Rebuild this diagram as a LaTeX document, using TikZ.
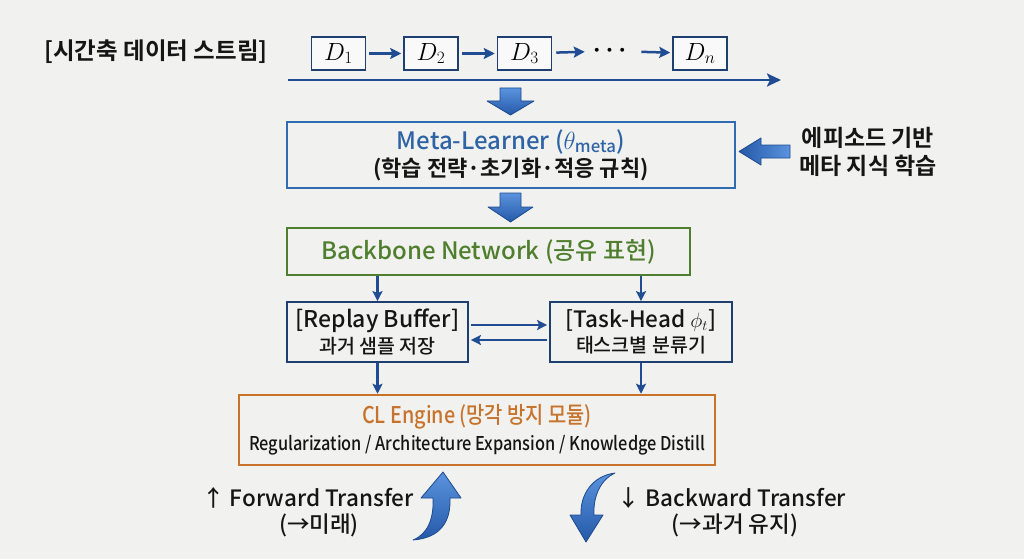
\documentclass[tikz,border=0pt]{standalone}
\usepackage{fontspec}
\usepackage{amsmath}
\setmainfont{Noto Sans CJK KR}[UprightFont={* Medium}, BoldFont={* Bold}]
\newfontfamily\condfont{Noto Sans CJK KR}[UprightFont={* Medium}, BoldFont={* Bold}, FakeStretch=0.86]
\usetikzlibrary{arrows.meta,calc}
\definecolor{bg}{HTML}{F1F1EF}
\definecolor{navy}{HTML}{1F3E72}
\definecolor{lineblue}{HTML}{1F4C92}
\definecolor{metablue}{HTML}{2E63A6}
\definecolor{boxblue}{HTML}{2F6CB3}
\definecolor{greenc}{HTML}{4F7F2E}
\definecolor{orangec}{HTML}{C7732C}
\definecolor{arrowlight}{HTML}{5B93DE}
\definecolor{arrowdark}{HTML}{2459A8}
\definecolor{arrowedge}{HTML}{1D4A8C}
\definecolor{ink}{HTML}{151515}
\tikzset{
  dbox/.style={draw=navy, line width=1.5pt, fill=white!60!bg, minimum width=54pt, minimum height=33pt, inner sep=0pt, font=\fontsize{24}{26}\selectfont},
  darr/.style={draw=lineblue, line width=2.5pt, -{Stealth[length=11pt,width=11pt,inset=2pt]}},
  thinarr/.style={draw=lineblue, line width=2.2pt, -{Stealth[length=10pt,width=10pt,inset=2pt]}},
  blockarrow/.style={top color=arrowlight, bottom color=arrowdark, draw=arrowedge, line width=0.8pt, line join=round},
  sidearrow/.style={left color=arrowdark, right color=arrowlight, draw=arrowedge, line width=0.8pt, line join=round},
  lbl/.style={inner sep=0pt, text=ink, align=center},
}
\begin{document}
\begin{tikzpicture}[x=1pt,y=-1pt]
\fill[bg] (0,0) rectangle (1024,559);
\useasboundingbox (0,0) rectangle (1024,559);

% title
\node[lbl, font=\fontsize{23.5}{26}\selectfont\bfseries] (title) at (156,52) {[시간축 데이터 스트림]};

% data stream
\node[dbox] (d1) at (338.5,53.5) {$D_1$};
\node[dbox] (d2) at (431,53.5) {$D_2$};
\node[dbox] (d3) at (524.5,53.5) {$D_3$};
\node[inner sep=0pt, font=\fontsize{40}{40}\selectfont] (dots) at (612,51) {$\boldsymbol{\cdots}$};
\node[dbox] (dn) at (700,53.5) {$D_n$};
\draw[darr, shorten <=3pt, shorten >=2pt] (d1) -- (d2);
\draw[darr, shorten <=3pt, shorten >=2pt] (d2) -- (d3);
\draw[darr, shorten <=4pt, shorten >=8pt] (d3) -- (dots);
\draw[darr, shorten <=10pt, shorten >=2pt] (dots) -- (dn);
\coordinate (tl0) at (288,80);
\coordinate (tl1) at (781,80);
\draw[draw=lineblue, line width=2.5pt, -{Stealth[length=14pt,width=13pt,inset=3pt]}] (tl0) -- (tl1);

% block arrow down 1
\path[blockarrow] (500,88) -- (521,88) -- (521,101) -- (534,101) -- (510.5,115) -- (487,101) -- (500,101) -- cycle;

% meta learner
\node[draw=boxblue, line width=2pt, minimum width=448pt, minimum height=66pt, inner sep=0pt, align=center, font=\fontsize{24}{27}\selectfont] (meta) at (511,155)
  {{\color{metablue}Meta-Learner ($\theta_{\text{meta}}$)}\\{\fontsize{22}{27}\selectfont\bfseries\color{ink}(학습 전략·초기화·적응 규칙)}};

% side arrow and text
\path[sidearrow] (790,145) -- (790,158) -- (761,158) -- (761,165) -- (739,151.5) -- (761,138) -- (761,145) -- cycle;
\node[lbl, font=\fontsize{23}{28}\selectfont\bfseries] (episode) at (868,152) {에피소드 기반\\메타 지식 학습};

% block arrow down 2
\path[blockarrow] (500,193) -- (521,193) -- (521,207) -- (533,207) -- (510.5,222) -- (488,207) -- (500,207) -- cycle;

% backbone
\node[draw=greenc, line width=2pt, minimum width=403pt, minimum height=47pt, inner sep=0pt, text=greenc, font=\fontsize{24}{26}\selectfont] (backbone) at (488.5,251.5) {Backbone Network (공유 표현)};

% replay and task-head
\node[draw=navy, line width=1.8pt, minimum width=181pt, minimum height=60pt, inner sep=0pt, align=center, text=ink, font=\fontsize{23}{25}\selectfont] (replay) at (377.5,332)
  {[Replay Buffer]\\{\fontsize{19.5}{25}\selectfont 과거 샘플 저장}};
\node[draw=navy, line width=1.8pt, minimum width=182pt, minimum height=60pt, inner sep=0pt, align=center, text=ink, font=\fontsize{22.5}{25}\selectfont] (task) at (641,332)
  {[Task-Head $\phi_t$]\\{\fontsize{19.5}{25}\selectfont 태스크별 분류기}};

\draw[thinarr] (replay.north |- backbone.south) -- (replay.north);
\draw[thinarr] (task.north |- backbone.south) -- (task.north);
\draw[thinarr, shorten <=2pt, shorten >=2pt] ($(replay.east)+(0,-7)$) -- ($(task.west)+(0,-7)$);
\draw[thinarr, shorten <=2pt, shorten >=2pt] ($(task.west)+(0,8)$) -- ($(replay.east)+(0,8)$);

% CL engine
\node[draw=orangec, line width=2.5pt, minimum width=476pt, minimum height=70pt, inner sep=0pt, align=center, font=\condfont\fontsize{19}{27}\selectfont] (cl) at (477,430)
  {{\fontsize{23}{27}\selectfont\color{orangec}CL Engine (망각 방지 모듈)}\\{\color{ink}Regularization / Architecture Expansion / Knowledge Distill}};

\draw[thinarr] (replay.south) -- (replay.south |- cl.north);
\draw[thinarr] (task.south) -- (task.south |- cl.north);

% forward / backward transfer
\node[lbl, font=\fontsize{22.5}{26}\selectfont] (fwd) at (308,498) {↑ Forward Transfer};
\node[lbl, font=\fontsize{22.5}{26}\selectfont] (fwd2) at (319,525) {(→미래)};
\path[blockarrow] (413,540) .. controls (428,534) and (434,518) .. (433,498) -- (421,498) -- (443,472) -- (461,498) -- (450,498) .. controls (451,522) and (440,538) .. (413,540) -- cycle;

\path[blockarrow] (615,473) .. controls (592,476) and (580,495) .. (581,515) -- (570,515) -- (586,542) -- (603,515) -- (594,515) .. controls (593,497) and (600,480) .. (615,473) -- cycle;
\node[lbl, font=\fontsize{22.5}{26}\selectfont] (bwd) at (732,498) {↓ Backward Transfer};
\node[lbl, font=\fontsize{22.5}{26}\selectfont] (bwd2) at (735,525) {(→과거 유지)};
\end{tikzpicture}
\end{document}
